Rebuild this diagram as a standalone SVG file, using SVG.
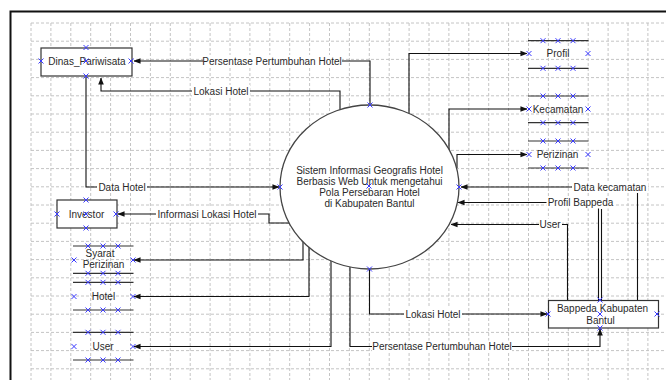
<svg xmlns="http://www.w3.org/2000/svg" xmlns:xlink="http://www.w3.org/1999/xlink" width="666" height="380" viewBox="0 0 666 380">
<defs>
<style>
.grid{stroke:#c4c4c4;stroke-width:1;stroke-dasharray:3,2;fill:none}
.box{fill:#fff;stroke:#333;stroke-width:1.2}
.store{stroke:#333;stroke-width:1.2;fill:none}
.conn{fill:none;stroke:#111;stroke-width:1.1}
.t{font-family:"Liberation Sans",Arial,sans-serif;font-size:10px;fill:#2a2a2a;text-anchor:middle}
.bg{fill:#fff}
.xm{stroke:#3a3aff;stroke-width:1;fill:none}
</style>
<marker id="ah" viewBox="0 0 8 8" refX="7.5" refY="4" markerWidth="7" markerHeight="7" markerUnits="userSpaceOnUse" orient="auto">
<path d="M0,0.8L8,4L0,7.2z" fill="#111"/>
</marker>
<path id="x" class="xm" d="M-2.5,-2.5L2.5,2.5M-2.5,2.5L2.5,-2.5"/>
</defs>
<rect width="666" height="380" fill="#fff"/>
<g id="grid">
<path class="grid" d="M31,23V380M50.9,23V380M70.8,23V380M90.7,23V380M110.6,23V380M130.5,23V380M150.4,23V380M170.3,23V380M190.2,23V380M210.1,23V380M230,23V380M249.9,23V380M269.8,23V380M289.7,23V380M309.6,23V380M329.5,23V380M349.4,23V380M369.3,23V380M389.2,23V380M409.1,23V380M429,23V380M448.9,23V380M468.8,23V380M488.7,23V380M508.6,23V380M528.5,23V380M548.4,23V380M568.3,23V380M588.2,23V380M608.1,23V380M628,23V380M647.9,23V380"/>
<path class="grid" d="M31,23H666M31,41.2H666M31,59.4H666M31,77.6H666M31,95.8H666M31,114H666M31,132.2H666M31,150.4H666M31,168.6H666M31,186.8H666M31,205H666M31,223.2H666M31,241.4H666M31,259.6H666M31,277.8H666M31,296H666M31,314.2H666M31,332.4H666M31,350.6H666M31,368.8H666"/>
</g>
<path d="M10.5,380V11.5H666" fill="none" stroke="#111" stroke-width="2"/>

<g id="connectors">
<path class="conn" d="M370,105V61H134" marker-end="url(#ah)"/>
<path class="conn" d="M340,109.5V91H101V78" marker-end="url(#ah)"/>
<path class="conn" d="M86,76V187H279" marker-end="url(#ah)"/>
<path class="conn" d="M289.6,223H269V214H118" marker-end="url(#ah)"/>
<path class="conn" d="M303,241.5V260H134" marker-end="url(#ah)"/>
<path class="conn" d="M309,247V296.5H134" marker-end="url(#ah)"/>
<path class="conn" d="M331,261V346.5H134" marker-end="url(#ah)"/>
<path class="conn" d="M350,267V346.5H600V329" marker-end="url(#ah)"/>
<path class="conn" d="M369.5,269V314H547" marker-end="url(#ah)"/>
<path class="conn" d="M409,113.5V53.5H527" marker-end="url(#ah)"/>
<path class="conn" d="M449,150V109H527" marker-end="url(#ah)"/>
<path class="conn" d="M457,168V154.5H527" marker-end="url(#ah)"/>
<path class="conn" d="M637.5,300V187H461" marker-end="url(#ah)"/>
<path class="conn" d="M598.5,300V202.5H458" marker-end="url(#ah)" stroke-width="1"/>
<path class="conn" d="M601.5,209V300" stroke-width="1"/>
<path class="conn" d="M567.5,300V224.5H451" marker-end="url(#ah)"/>
<g id="labels">
<rect class="bg" x="203" y="55" width="139" height="12"/>
<text class="t" x="272" y="64.5">Persentase Pertumbuhan Hotel</text>
<rect class="bg" x="192" y="85" width="58" height="12"/>
<text class="t" x="221" y="94.5">Lokasi Hotel</text>
<rect class="bg" x="97" y="181" width="50" height="12"/>
<text class="t" x="122" y="190.5">Data Hotel</text>
<rect class="bg" x="156" y="208" width="102" height="12"/>
<text class="t" x="207" y="217.5">Informasi Lokasi Hotel</text>
<rect class="bg" x="404" y="308" width="58" height="12"/>
<text class="t" x="433" y="317.5">Lokasi Hotel</text>
<rect class="bg" x="372" y="340.5" width="140" height="12"/>
<text class="t" x="442" y="350">Persentase Pertumbuhan Hotel</text>
<rect class="bg" x="572" y="181" width="76" height="12"/>
<text class="t" x="610" y="190.5">Data kecamatan</text>
<rect class="bg" x="546.5" y="196.5" width="68" height="12"/>
<text class="t" x="580.5" y="206">Profil Bappeda</text>
<rect class="bg" x="539" y="218.5" width="23" height="12"/>
<text class="t" x="550" y="228">User</text>
</g>
</g>

<g id="dinas_pariwisata">
<rect class="box" x="41" y="48" width="91" height="28"/>
<text class="t" x="87" y="64.5">Dinas_Pariwisata</text>
<use xlink:href="#x" href="#x" x="86" y="47.5"/><use href="#x" x="41" y="61"/><use href="#x" x="86" y="61"/><use href="#x" x="131" y="61"/><use href="#x" x="86" y="76"/>
</g>

<g id="investor">
<rect class="box" x="57" y="200" width="60" height="28"/>
<text class="t" x="86.5" y="217.5">Investor</text>
<use href="#x" x="86" y="200"/><use href="#x" x="57" y="214"/><use href="#x" x="86" y="214"/><use href="#x" x="116" y="214"/><use href="#x" x="86" y="228"/>
</g>

<g id="sistem">
<ellipse cx="369.5" cy="187" rx="89.5" ry="82" fill="#fff" stroke="#444" stroke-width="1.3"/>
<text class="t" x="369.5" y="173.5">Sistem Informasi Geografis Hotel</text>
<text class="t" x="369.5" y="184.5">Berbasis Web Untuk mengetahui</text>
<text class="t" x="369.5" y="196">Pola Persebaran Hotel</text>
<text class="t" x="369.5" y="206.5">di Kabupaten Bantul</text>
<use href="#x" x="370" y="105"/><use href="#x" x="280" y="187"/><use href="#x" x="369" y="186"/><use href="#x" x="459" y="187"/><use href="#x" x="369.5" y="269"/>
</g>

<g id="bappeda">
<rect class="box" x="548.5" y="300.5" width="110" height="27.5"/>
<text class="t" x="602.5" y="311.5">Bappeda Kabupaten</text>
<text class="t" x="600.5" y="323.5">Bantul</text>
<use href="#x" x="600" y="300"/><use href="#x" x="548" y="314"/><use href="#x" x="600" y="314"/><use href="#x" x="657" y="314"/><use href="#x" x="600" y="328"/>
</g>

<g id="profil">
<path class="store" d="M528,40.7H588.5M528,68.3H588.5"/>
<text class="t" x="558" y="57">Profil</text>
<use href="#x" x="543" y="40.7"/><use href="#x" x="558" y="40.7"/><use href="#x" x="573" y="40.7"/>
<use href="#x" x="543" y="68.3"/><use href="#x" x="558" y="68.3"/><use href="#x" x="573" y="68.3"/>
<use href="#x" x="529" y="53.5"/><use href="#x" x="588" y="53.5"/>
</g>

<g id="kecamatan">
<path class="store" d="M528,96H588.5M528,122.7H588.5"/>
<text class="t" x="558" y="112.5">Kecamatan</text>
<use href="#x" x="543" y="96"/><use href="#x" x="558" y="96"/><use href="#x" x="573" y="96"/>
<use href="#x" x="543" y="122.7"/><use href="#x" x="558" y="122.7"/><use href="#x" x="573" y="122.7"/>
<use href="#x" x="529" y="109"/><use href="#x" x="588" y="109"/>
</g>

<g id="perizinan">
<path class="store" d="M528,141H588.5M528,168H588.5"/>
<text class="t" x="557.5" y="158">Perizinan</text>
<use href="#x" x="543" y="141"/><use href="#x" x="558" y="141"/><use href="#x" x="573" y="141"/>
<use href="#x" x="543" y="168"/><use href="#x" x="558" y="168"/><use href="#x" x="573" y="168"/>
<use href="#x" x="529" y="154.5"/><use href="#x" x="588" y="154.5"/>
</g>

<g id="syarat_perizinan">
<path class="store" d="M73,246H133.5M73,273.3H133.5"/>
<text class="t" x="100" y="256.5">Syarat</text>
<text class="t" x="103.5" y="267.5">Perizinan</text>
<use href="#x" x="88" y="246"/><use href="#x" x="103" y="246"/><use href="#x" x="118" y="246"/>
<use href="#x" x="88" y="273.3"/><use href="#x" x="103" y="273.3"/><use href="#x" x="118" y="273.3"/>
<use href="#x" x="74" y="260"/><use href="#x" x="133" y="260"/>
</g>

<g id="hotel">
<path class="store" d="M73,282.3H133.5M73,310H133.5"/>
<text class="t" x="103.5" y="299.5">Hotel</text>
<use href="#x" x="88" y="282.3"/><use href="#x" x="103" y="282.3"/><use href="#x" x="118" y="282.3"/>
<use href="#x" x="88" y="310"/><use href="#x" x="103" y="310"/><use href="#x" x="118" y="310"/>
<use href="#x" x="74" y="296.5"/><use href="#x" x="133" y="296.5"/>
</g>

<g id="user">
<path class="store" d="M73,332.3H133.5M73,360H133.5"/>
<text class="t" x="103" y="349.5">User</text>
<use href="#x" x="88" y="332.3"/><use href="#x" x="103" y="332.3"/><use href="#x" x="118" y="332.3"/>
<use href="#x" x="88" y="360"/><use href="#x" x="103" y="360"/><use href="#x" x="118" y="360"/>
<use href="#x" x="74" y="346.5"/><use href="#x" x="133" y="346.5"/>
</g>
</svg>
